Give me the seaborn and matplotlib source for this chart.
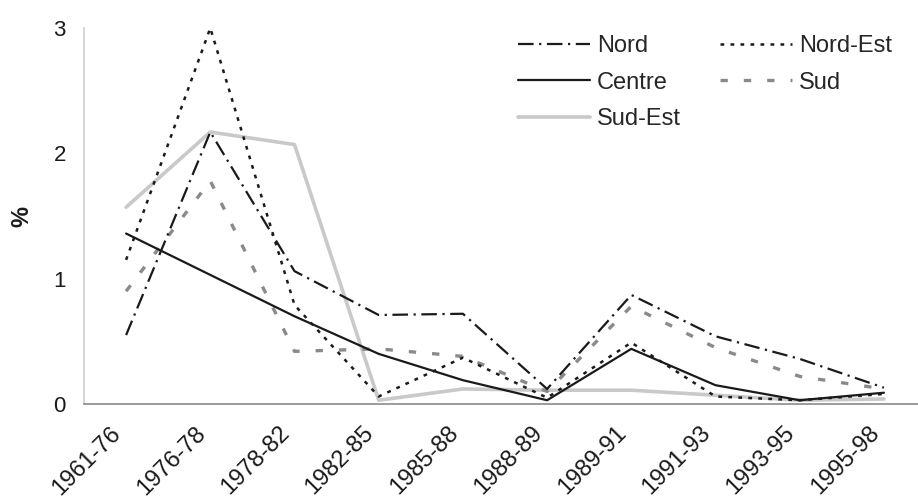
import matplotlib
matplotlib.use("Agg")
import matplotlib.pyplot as plt
import matplotlib.transforms as mtransforms
import seaborn as sns
import numpy as np

periods = ["1961-76", "1976-78", "1978-82", "1982-85", "1985-88",
           "1988-89", "1989-91", "1991-93", "1993-95", "1995-98"]
nord     = [0.55, 2.17, 1.06, 0.71, 0.72, 0.12, 0.87, 0.54, 0.36, 0.13]
nord_est = [1.15, 3.00, 0.79, 0.06, 0.37, 0.05, 0.49, 0.06, 0.03, 0.08]
centre   = [1.36, 1.03, 0.70, 0.40, 0.19, 0.03, 0.44, 0.15, 0.03, 0.09]
sud      = [0.90, 1.78, 0.42, 0.44, 0.38, 0.10, 0.78, 0.45, 0.22, 0.12]
sud_est  = [1.57, 2.17, 2.07, 0.03, 0.12, 0.11, 0.11, 0.07, 0.03, 0.04]
y_ticks = [0, 1, 2, 3]

sns.set_style("white")
plt.rcParams["font.family"] = ["Liberation Sans", "DejaVu Sans"]

fig = plt.figure(figsize=(9.18, 4.98), dpi=100)
W, H = 918, 498
x0, x1, ytop, ybot = 84, 926, 28, 404
ax = fig.add_axes([x0 / W, (H - ybot) / H, (x1 - x0) / W, (ybot - ytop) / H])

styles = {
    "Nord": dict(color="#1a1a1a", lw=1.6, dashes=(7, 2.5, 1, 2.5)),
    "Centre": dict(color="#1a1a1a", lw=1.6, linestyle="-"),
    "Sud-Est": dict(color="#c9c9c9", lw=2.6, linestyle="-"),
    "Nord-Est": dict(color="#1a1a1a", lw=1.8, dashes=(1.5, 2.5)),
    "Sud": dict(color="#8a8a8a", lw=2.4, dashes=(2.2, 4.8)),
}
data = {"Nord": nord, "Centre": centre, "Sud-Est": sud_est,
        "Nord-Est": nord_est, "Sud": sud}
order_draw = ["Sud-Est", "Sud", "Centre", "Nord-Est", "Nord"]
handles = {}
for name in order_draw:
    n_before = len(ax.lines)
    sns.lineplot(x=periods, y=data[name], ax=ax, sort=False, label=name, **styles[name])
    handles[name] = ax.lines[n_before]

ax.set_xlim(-0.5, 9.5)
ax.set_ylim(0, 3)

for s in ["top", "right"]:
    ax.spines[s].set_visible(False)
ax.spines["left"].set_color("#d0d0d0")
ax.spines["left"].set_linewidth(1.2)
ax.spines["bottom"].set_color("#8a8a8a")
ax.spines["bottom"].set_linewidth(1.2)

ax.set_yticks(y_ticks)
ax.set_yticklabels([str(t) for t in y_ticks])
ax.tick_params(axis="y", length=5, width=1, color="#bbbbbb", pad=8, labelsize=16,
               labelcolor="#1a1a1a")

ax.set_xticks(range(len(periods)))
ax.set_xticklabels(periods, rotation=45, ha="right", rotation_mode="anchor")
ax.tick_params(axis="x", which="major", length=0, pad=13, labelsize=17, labelcolor="#1a1a1a")
offset = mtransforms.ScaledTranslation(-16 / 100, 0, fig.dpi_scale_trans)
for lbl in ax.get_xticklabels():
    lbl.set_transform(lbl.get_transform() + offset)
bounds = np.arange(0.5, len(periods) - 0.4, 1.0)
ax.set_xticks(bounds, minor=True)
ax.tick_params(axis="x", which="minor", length=6, width=1.2, color="#8a8a8a", direction="out")
for i, tk in enumerate(ax.xaxis.get_minor_ticks()):
    if i % 2 == 1:
        tk.tick1line.set_color("#e2e2e2")

ax.set_xlabel("")
ax.set_ylabel("%", fontsize=17, fontweight="bold", color="#1a1a1a")
ax.yaxis.set_label_coords(-0.06, 0.5)

leg_order = ["Nord", "Centre", "Sud-Est", "Nord-Est", "Sud"]
ax.legend([handles[n] for n in leg_order], leg_order, ncol=2, frameon=False,
          loc="upper left", bbox_to_anchor=(518 / W, 1 - 35 / H),
          bbox_transform=fig.transFigure, borderpad=0, borderaxespad=0,
          fontsize=17, handlelength=3.05, handletextpad=0.3,
          columnspacing=1.63, labelspacing=0.62)

fig.savefig("out.png", dpi=100)
